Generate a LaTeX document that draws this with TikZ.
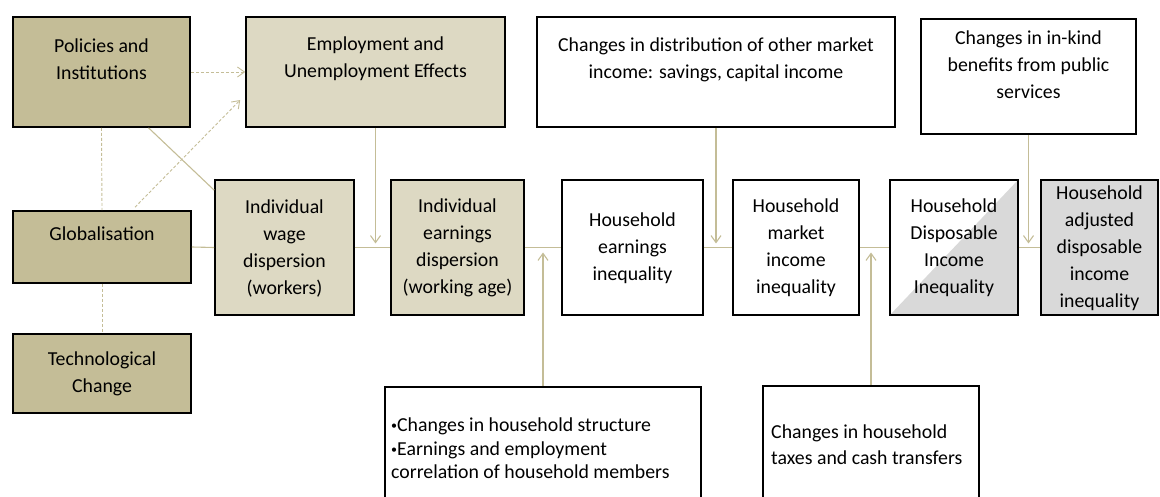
\documentclass[tikz,border=0pt]{standalone}
\usepackage{fontspec}
\setmainfont{Carlito}
\usetikzlibrary{arrows.meta,calc}
\definecolor{tandark}{HTML}{C4BD97}
\definecolor{tanlight}{HTML}{DDD9C3}
\definecolor{linetan}{HTML}{C4BD97}
\definecolor{greyfill}{HTML}{D9D9D9}
\newcommand{\smallbul}{\raisebox{2pt}{\fontsize{12}{12}\selectfont•}}
\begin{document}
\begin{tikzpicture}[x=1pt,y=-1pt,
  box/.style={draw=black,line width=1.6pt,inner sep=0pt,fill=white},
  dark/.style={box,fill=tandark},
  light/.style={box,fill=tanlight},
  txt/.style={font=\fontsize{19.8}{27}\selectfont,align=center,inner sep=0pt},
  conn/.style={draw=linetan,line width=1.1pt},
  dconn/.style={conn,line width=0.9pt,dash pattern=on 3pt off 2pt},
  arr/.style={-{Straight Barb[length=7pt,width=10pt]}}]
\useasboundingbox (0,0) rectangle (1160,497);
% left column
\node[dark,minimum width=177pt,minimum height=110pt] (pol) at (101.5,72) {};
\node[txt] (polt) at (101.5,59) {Policies and\\Institutions};
\node[dark,minimum width=178pt,minimum height=72pt] (glob) at (102,247) {};
\node[txt] (globt) at (102,234) {Globalisation};
\node[dark,minimum width=178pt,minimum height=79pt] (tech) at (102,373.5) {};
\node[txt] (techt) at (102,374) {Technological\\Change};
% employment
\node[light,minimum width=259pt,minimum height=110pt] (emp) at (375.5,72) {};
\node[txt] (empt) at (375.5,59) {Employment and\\Unemployment Effects};
% main row
\node[light,minimum width=139pt,minimum height=135pt] (wage) at (284.5,247.5) {};
\node[txt] (waget) at (284.5,248) {Individual\\wage\\dispersion\\(workers)};
\node[light,minimum width=133pt,minimum height=135pt] (earn) at (457.5,247.5) {};
\node[txt] (earnt) at (457.5,248) {Individual\\earnings\\dispersion\\(working age)};
\node[box,minimum width=141pt,minimum height=135pt] (hearn) at (632.5,247.5) {};
\node[txt] (hearnt) at (632.5,248) {Household\\earnings\\inequality};
\node[box,minimum width=126pt,minimum height=135pt] (hmkt) at (796,247.5) {};
\node[txt] (hmktt) at (796,248) {Household\\market\\income\\inequality};
\node[box,minimum width=128pt,minimum height=135pt,
  path picture={\fill[greyfill] (path picture bounding box.north east) -- (path picture bounding box.south east) -- (path picture bounding box.south west) -- cycle;}] (hdisp) at (954,247.5) {};
\node[txt] (hdispt) at (954,248) {Household\\Disposable\\Income\\Inequality};
\node[box,fill=greyfill,minimum width=117pt,minimum height=135pt] (hadj) at (1099.5,247.5) {};
\node[txt] (hadjt) at (1099.5,248) {Household\\adjusted\\disposable\\income\\inequality};
% top boxes
\node[box,minimum width=358pt,minimum height=110pt] (dist) at (716,72) {};
\node[txt] (distt) at (716,59.5) {Changes in distribution of other market\\income: savings, capital income};
\node[box,minimum width=215pt,minimum height=115pt] (kind) at (1028.5,76.5) {};
\node[txt] (kindt) at (1028.5,64.5) {Changes in in-kind\\benefits from public\\services};
% bottom boxes
\node[box,minimum width=316pt,minimum height=113pt] (bot1) at (543,443.5) {};
\node[txt,align=left,anchor=west,font=\fontsize{19.8}{23.5}\selectfont] (bot1t) at (391,448.5) {\smallbul Changes in household structure\\\smallbul Earnings and employment\\correlation of household members};
\node[box,minimum width=216pt,minimum height=114pt] (bot2) at (871,443) {};
\node[txt,align=left,anchor=west,font=\fontsize{19.8}{26}\selectfont] (bot2t) at (771,445) {Changes in household\\taxes and cash transfers};
% connectors
\draw[dconn,arr] (pol.east) -- (emp.west);
\draw[dconn,arr] ($(glob.north)+(33,-3)$) -- ($(emp.west)+(-5,28)$);
\draw[conn] ($(pol.south)+(47,0)$) -- ($(wage.north west)+(0,11)$);
\draw[dconn] (pol.south) -- (glob.north);
\draw[dconn] (glob.south) -- (tech.north);
\draw[conn] (glob.east) -- (wage.west);
\draw[conn] (wage.east) -- (earn.west);
\draw[conn,arr] (emp.south) -- ($(emp.south |- earn.west)+(0,-4)$);
\draw[conn] (earn.east) -- (hearn.west);
\draw[conn,arr] (bot1.north) -- ($(bot1.north |- earn.east)+(0,5)$);
\draw[conn] (hearn.east) -- (hmkt.west);
\draw[conn,arr] (dist.south) -- ($(dist.south |- hmkt.west)+(0,-4)$);
\draw[conn] (hmkt.east) -- (hdisp.west);
\draw[conn,arr] (bot2.north) -- ($(bot2.north |- hmkt.east)+(0,5)$);
\draw[conn] (hdisp.east) -- (hadj.west);
\draw[conn,arr] (kind.south) -- ($(kind.south |- hadj.west)+(0,-4)$);
\end{tikzpicture}
\end{document}
